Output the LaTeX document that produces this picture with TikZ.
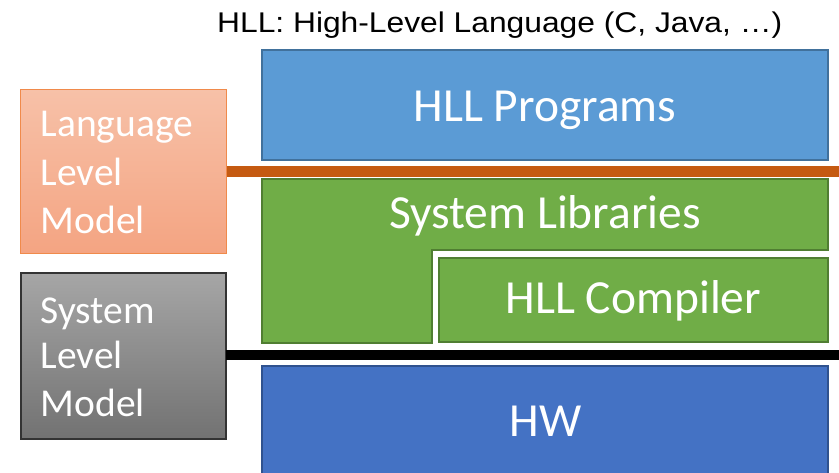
\documentclass[tikz,border=0pt]{standalone}
\usepackage{fontspec}
\usepackage{graphicx}
\setmainfont{Carlito}
\newfontfamily\arialf{Liberation Sans}
\definecolor{progfill}{HTML}{5B9BD5}
\definecolor{progdraw}{HTML}{41719C}
\definecolor{libfill}{HTML}{70AD47}
\definecolor{libdraw}{HTML}{507E32}
\definecolor{hwfill}{HTML}{4472C4}
\definecolor{hwdraw}{HTML}{2F528F}
\definecolor{langline}{HTML}{C55A11}
\definecolor{langtop}{HTML}{F7C1A8}
\definecolor{langbot}{HTML}{F4A482}
\definecolor{langdraw}{HTML}{F08A4B}
\definecolor{systop}{HTML}{A6A6A6}
\definecolor{sysbot}{HTML}{727272}
\begin{document}
\begin{tikzpicture}[x=1pt,y=-1pt,
  layerbox/.style={rectangle, inner sep=0pt, outer sep=0pt, line width=2pt},
  modelbox/.style={rectangle, inner sep=0pt, outer sep=0pt, line width=1.2pt},
  bigtext/.style={inner sep=0pt, anchor=base, text=white, font=\fontsize{47.5}{56}\selectfont},
  modeltext/.style={inner sep=0pt, anchor=base west, text=white, font=\fontsize{39.5}{47}\selectfont},
  sepline/.style={line width=10.5pt}
]
\clip (0,0) rectangle (839,473);
\fill[white] (0,0) rectangle (839,473);

% title
\node[inner sep=0pt, anchor=base west] (title) at (217,32.7)
  {\arialf\fontsize{28.5}{34}\selectfont\resizebox{565pt}{\height}{HLL: High-Level Language (C, Java, …)}};

% HLL programs
\node[layerbox, fill=progfill, draw=progdraw, minimum width=566pt, minimum height=110pt] (prog) at (545,105.5) {};
\node[bigtext] (progtxt) at (545,122) {HLL Programs};

% system libraries (L shape)
\filldraw[fill=libfill, draw=libdraw, line width=2pt]
  (262,179) -- (828,179) -- (828,250) -- (432,250) -- (432,343) -- (262,343) -- cycle;
\node[bigtext] (libtxt) at (545,229) {System Libraries};

% HLL compiler
\node[layerbox, fill=libfill, draw=libdraw, minimum width=389pt, minimum height=84pt] (comp) at (633.5,300.5) {};
\node[bigtext] (comptxt) at (633.5,313.3) {HLL Compiler};

% HW
\node[layerbox, fill=hwfill, draw=hwdraw, minimum width=566pt, minimum height=120pt] (hw) at (545,426) {};
\node[bigtext] (hwtxt) at (545.5,436) {HW};

% language level model
\node[modelbox, top color=langtop, bottom color=langbot, draw=langdraw, minimum width=206pt, minimum height=164pt] (lang) at (123.5,171.5) {};
\node[modeltext] (lang1) at (40.5,137) {Language};
\node[modeltext] (lang2) at (40.5,185.3) {Level};
\node[modeltext] (lang3) at (40.5,234) {Model};

% system level model
\node[modelbox, top color=systop, bottom color=sysbot, draw=black!80, minimum width=205pt, minimum height=166pt] (sys) at (123.5,356) {};
\node[modeltext] (sys1) at (40.5,324) {System};
\node[modeltext] (sys2) at (40.5,369) {Level};
\node[modeltext] (sys3) at (40.5,417) {Model};

% separator lines
\coordinate (oend) at (839,171.5);
\coordinate (bend) at (839,355);
\draw[sepline, langline] (lang.east |- oend) -- (oend);
\draw[sepline, black] (sys.east |- bend) -- (bend);
\end{tikzpicture}
\end{document}
